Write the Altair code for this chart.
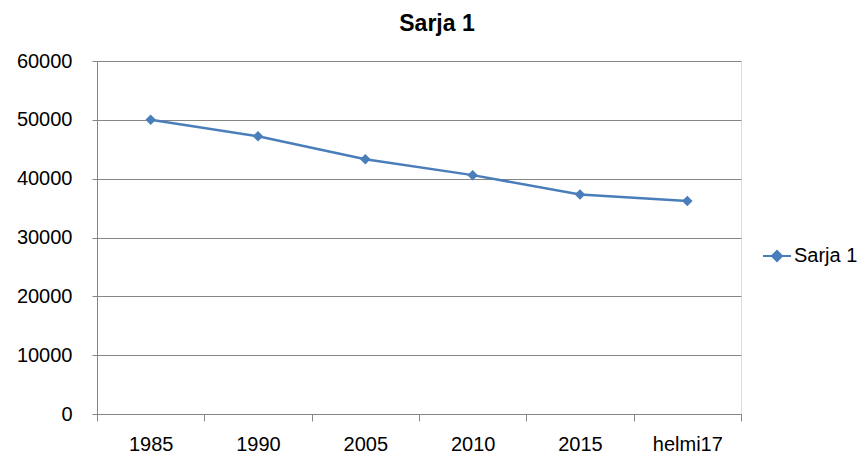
import json
import altair as alt
import pandas as pd

categories = ["1985", "1990", "2005", "2010", "2015", "helmi17"]
values = [50000, 47200, 43300, 40600, 37300, 36200]
series_name = "Sarja 1"
y_ticks = [0, 10000, 20000, 30000, 40000, 50000, 60000]

df = pd.DataFrame({
    "pos": [i + 0.5 for i in range(len(categories))],
    "category": categories,
    "value": values,
    "series": [series_name] * len(categories),
})

FONT = "Liberation Sans"
GRID = "#868686"
BLUE = "#4a7ebb"
W, H = 644, 353

n = len(categories)
label_expr = "datum.value < %d ? %s[floor(datum.value)] : ''" % (n, json.dumps(categories))

x_scale = alt.Scale(domain=[0, n], nice=False, zero=False)
y_scale = alt.Scale(domain=[0, 60000], nice=False)

x_axis = alt.Axis(
    values=list(range(n + 1)), labelExpr=label_expr, labelOffset=W / n / 2,
    labelFlush=False, labelOverlap=False, grid=False, title=None,
    domainColor=GRID, tickColor=GRID, tickSize=7, labelPadding=13,
    labelFont=FONT, labelFontSize=20, labelColor="#000000",
)
y_axis = alt.Axis(
    values=y_ticks, format="d", grid=True, gridColor=GRID, gridOpacity=1,
    domainColor=GRID, tickColor=GRID, tickSize=5, labelPadding=20,
    labelFlush=False, title=None, labelFont=FONT, labelFontSize=20,
    labelColor="#000000",
)

legend_shape = "M-1,0L1,0M0,-0.36L0.36,0L0,0.36L-0.36,0Z"

line = alt.Chart(df).mark_line(strokeWidth=2.5).encode(
    x=alt.X("pos:Q", scale=x_scale, axis=x_axis),
    y=alt.Y("value:Q", scale=y_scale, axis=y_axis),
    color=alt.Color(
        "series:N", scale=alt.Scale(range=[BLUE]),
        legend=alt.Legend(
            title=None, orient="none", legendX=665, legendY=180,
            symbolType=legend_shape, symbolSize=784, symbolStrokeWidth=2,
            symbolFillColor=BLUE, symbolStrokeColor=BLUE, labelOffset=2,
            labelFont=FONT, labelFontSize=20, labelColor="#000000", padding=0,
        ),
    ),
)
points = alt.Chart(df).mark_point(
    shape="diamond", filled=True, size=110, opacity=1, color=BLUE
).encode(
    x=alt.X("pos:Q", scale=x_scale, axis=x_axis),
    y=alt.Y("value:Q", scale=y_scale, axis=y_axis),
)

chart = alt.layer(line, points).properties(
    width=W, height=H,
    title=alt.TitleParams(
        series_name, font=FONT, fontSize=23, fontWeight="bold", color="#000000",
        anchor="middle", dx=18, offset=15,
    ),
    autosize=alt.AutoSizeParams(type="none"),
    padding={"left": 89, "top": 53, "right": 116, "bottom": 39},
).configure_view(stroke=None).configure(background="white")

chart.save("out.html", embed_options={"renderer": "svg", "actions": False})
